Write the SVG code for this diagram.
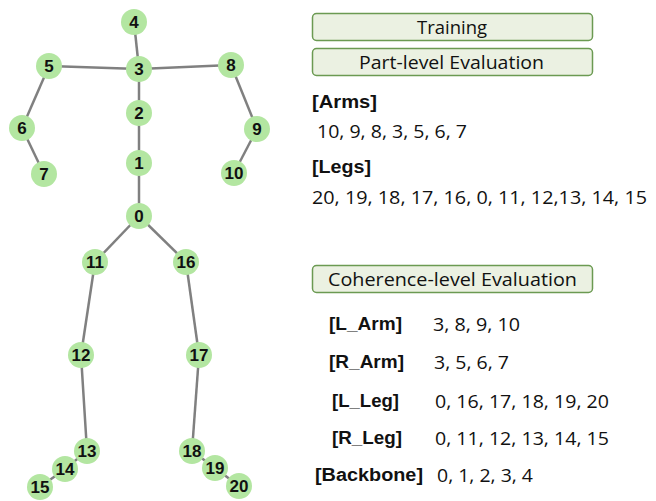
<svg xmlns="http://www.w3.org/2000/svg" width="656" height="501" viewBox="0 0 656 501">
<style>
.bone{stroke:#808080;stroke-width:2.5;fill:none}
.n circle{fill:#b3e6a1}
.n text{font-family:"Liberation Sans",Arial,sans-serif;font-weight:bold;font-size:17px;text-anchor:middle;fill:#111}
.box{fill:#ebf1e2;stroke:#6b9a52;stroke-width:1.5}
.bt{font-family:"Open Sans","Liberation Sans",sans-serif;font-size:18px;fill:#111}
.t{font-family:"Open Sans","Liberation Sans",sans-serif;font-size:18px;fill:#111}
.b{font-family:"Liberation Sans",Arial,sans-serif;font-size:18px;font-weight:bold;fill:#111}
</style>
<rect width="656" height="501" fill="#fff"/>
<g id="connectors">
<line class="bone" x1="134" y1="22" x2="139" y2="69"/>
<line class="bone" x1="49" y1="66" x2="139" y2="69"/>
<line class="bone" x1="139" y1="69" x2="231" y2="65"/>
<line class="bone" x1="49" y1="66" x2="22" y2="128"/>
<line class="bone" x1="22" y1="128" x2="44" y2="174"/>
<line class="bone" x1="231" y1="65" x2="257" y2="129"/>
<line class="bone" x1="257" y1="129" x2="234" y2="173"/>
<line class="bone" x1="139" y1="69" x2="139" y2="216"/>
<line class="bone" x1="139" y1="216" x2="95" y2="262"/>
<line class="bone" x1="139" y1="216" x2="186" y2="262"/>
<line class="bone" x1="95" y1="262" x2="81" y2="355"/>
<line class="bone" x1="81" y1="355" x2="87" y2="451"/>
<line class="bone" x1="87" y1="451" x2="65" y2="469"/>
<line class="bone" x1="65" y1="469" x2="40" y2="487"/>
<line class="bone" x1="186" y1="262" x2="199" y2="355"/>
<line class="bone" x1="199" y1="355" x2="192" y2="451"/>
<line class="bone" x1="192" y1="451" x2="215" y2="468"/>
<line class="bone" x1="215" y1="468" x2="239" y2="486"/>
</g>
<g id="n0" class="n"><circle cx="139" cy="216" r="13"/><text x="139" y="222">0</text></g>
<g id="n1" class="n"><circle cx="139" cy="163" r="13"/><text x="139" y="169">1</text></g>
<g id="n2" class="n"><circle cx="139" cy="113" r="13"/><text x="139" y="119">2</text></g>
<g id="n3" class="n"><circle cx="139" cy="69" r="13"/><text x="139" y="75">3</text></g>
<g id="n4" class="n"><circle cx="134" cy="22" r="13"/><text x="134" y="28">4</text></g>
<g id="n5" class="n"><circle cx="49" cy="66" r="13"/><text x="49" y="72">5</text></g>
<g id="n6" class="n"><circle cx="22" cy="128" r="13"/><text x="22" y="134">6</text></g>
<g id="n7" class="n"><circle cx="44" cy="174" r="13"/><text x="44" y="180">7</text></g>
<g id="n8" class="n"><circle cx="231" cy="65" r="13"/><text x="231" y="71">8</text></g>
<g id="n9" class="n"><circle cx="257" cy="129" r="13"/><text x="257" y="135">9</text></g>
<g id="n10" class="n"><circle cx="234" cy="173" r="13"/><text x="234" y="179">10</text></g>
<g id="n11" class="n"><circle cx="95" cy="262" r="13"/><text x="95" y="268">11</text></g>
<g id="n12" class="n"><circle cx="81" cy="355" r="13"/><text x="81" y="361">12</text></g>
<g id="n13" class="n"><circle cx="87" cy="451" r="13"/><text x="87" y="457">13</text></g>
<g id="n14" class="n"><circle cx="65" cy="469" r="13"/><text x="65" y="475">14</text></g>
<g id="n15" class="n"><circle cx="40" cy="487" r="13"/><text x="40" y="493">15</text></g>
<g id="n16" class="n"><circle cx="186" cy="262" r="13"/><text x="186" y="268">16</text></g>
<g id="n17" class="n"><circle cx="199" cy="355" r="13"/><text x="199" y="361">17</text></g>
<g id="n18" class="n"><circle cx="192" cy="451" r="13"/><text x="192" y="457">18</text></g>
<g id="n19" class="n"><circle cx="215" cy="468" r="13"/><text x="215" y="474">19</text></g>
<g id="n20" class="n"><circle cx="239" cy="486" r="13"/><text x="239" y="492">20</text></g>
<g id="training"><rect class="box" x="312.5" y="13.5" width="280" height="27" rx="4"/><text class="bt" x="417" y="33.5" textLength="70" lengthAdjust="spacingAndGlyphs">Training</text></g>
<g id="part"><rect class="box" x="312.5" y="48.5" width="280" height="27" rx="4"/><text class="bt" x="359" y="68.5" textLength="185" lengthAdjust="spacingAndGlyphs">Part-level Evaluation</text></g>
<g id="coherence"><rect class="box" x="312.5" y="265.5" width="280" height="27" rx="4"/><text class="bt" x="328" y="285.5" textLength="249" lengthAdjust="spacingAndGlyphs">Coherence-level Evaluation</text></g>
<text class="b" x="312" y="108" textLength="65" lengthAdjust="spacingAndGlyphs">[Arms]</text>
<text class="t" x="317" y="137.5" textLength="150" lengthAdjust="spacingAndGlyphs">10, 9, 8, 3, 5, 6, 7</text>
<text class="b" x="312" y="173" textLength="59" lengthAdjust="spacingAndGlyphs">[Legs]</text>
<text class="t" x="312" y="203.5" textLength="335" lengthAdjust="spacingAndGlyphs">20, 19, 18, 17, 16, 0, 11, 12,13, 14, 15</text>
<text class="b" x="329" y="330" textLength="73" lengthAdjust="spacingAndGlyphs">[L_Arm]</text><text class="t" x="433" y="330.5" textLength="87" lengthAdjust="spacingAndGlyphs">3, 8, 9, 10</text>
<text class="b" x="329" y="368" textLength="75" lengthAdjust="spacingAndGlyphs">[R_Arm]</text><text class="t" x="434" y="368.5" textLength="75" lengthAdjust="spacingAndGlyphs">3, 5, 6, 7</text>
<text class="b" x="332" y="407" textLength="67" lengthAdjust="spacingAndGlyphs">[L_Leg]</text><text class="t" x="435" y="407.5" textLength="174" lengthAdjust="spacingAndGlyphs">0, 16, 17, 18, 19, 20</text>
<text class="b" x="332" y="444" textLength="70" lengthAdjust="spacingAndGlyphs">[R_Leg]</text><text class="t" x="435" y="444.5" textLength="174" lengthAdjust="spacingAndGlyphs">0, 11, 12, 13, 14, 15</text>
<text class="b" x="315" y="481" textLength="108" lengthAdjust="spacingAndGlyphs">[Backbone]</text><text class="t" x="437" y="481.5" textLength="96" lengthAdjust="spacingAndGlyphs">0, 1, 2, 3, 4</text>
</svg>
